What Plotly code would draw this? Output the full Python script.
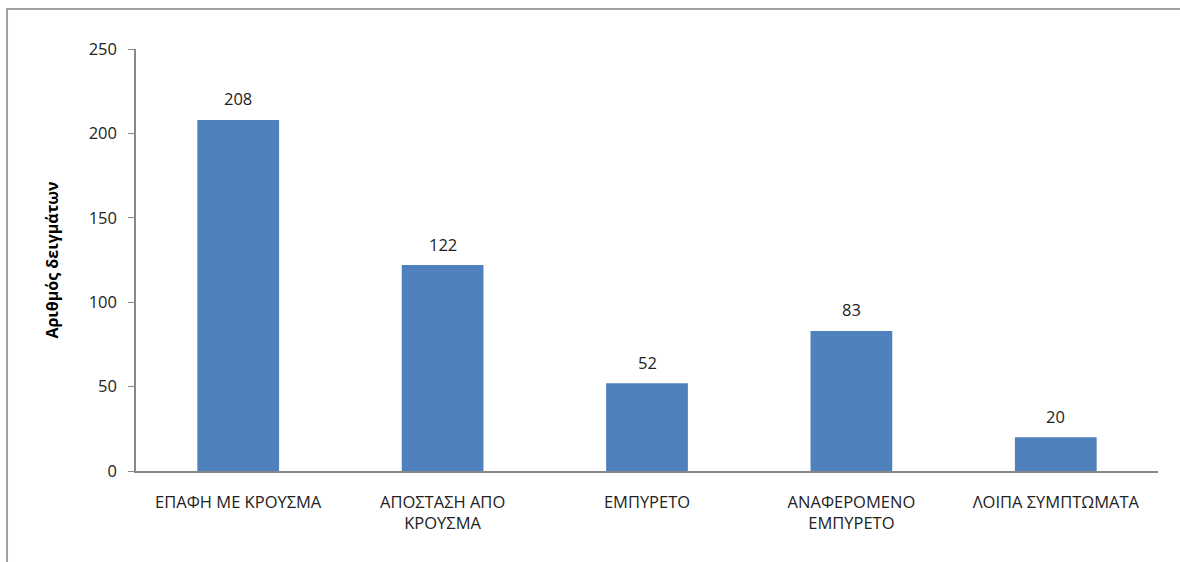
import plotly.graph_objects as go

categories = ["ΕΠΑΦΗ ΜΕ ΚΡΟΥΣΜΑ", "ΑΠΟΣΤΑΣΗ ΑΠΟ<br>ΚΡΟΥΣΜΑ", "ΕΜΠΥΡΕΤΟ",
              "ΑΝΑΦΕΡΟΜΕΝΟ<br>ΕΜΠΥΡΕΤΟ", "ΛΟΙΠΑ ΣΥΜΠΤΩΜΑΤΑ"]
values = [208, 122, 52, 83, 20]
y_ticks = [0, 50, 100, 150, 200, 250]
y_title = "Αριθμός δειγμάτων"

FONT = "Open Sans, Liberation Sans, sans-serif"
BAR = "#4F81BD"
FS = 16.5

fig = go.Figure()
fig.add_trace(go.Bar(x=categories, y=values, marker=dict(color=BAR, line=dict(width=0)),
                     hoverinfo="skip"))

for c, v in zip(categories, values):
    fig.add_annotation(x=c, y=v, text=str(v), showarrow=False, yshift=21,
                       font=dict(family=FONT, size=FS, color="#222"))

fig.update_layout(
    width=1180, height=562,
    margin=dict(l=136, r=22, t=49, b=91),
    paper_bgcolor="white", plot_bgcolor="white",
    bargap=0.6, showlegend=False,
    font=dict(family=FONT, size=FS, color="#222"),
)
fig.update_xaxes(showline=True, linecolor="#888", linewidth=1.5, ticks="",
                 showgrid=False, ticklabelstandoff=15,
                 tickfont=dict(family=FONT, size=FS, color="#222"))
fig.update_yaxes(range=[0, 250], tickvals=y_ticks, showline=True, linecolor="#888",
                 linewidth=1.5, ticks="outside", ticklen=6, tickcolor="#888",
                 showgrid=False, zeroline=False, ticklabelstandoff=8,
                 tickfont=dict(family=FONT, size=FS, color="#222"),
                 title=dict(text="<b>" + y_title + "</b>", standoff=26,
                            font=dict(family=FONT, size=16, color="#000")))

fig.add_shape(type="rect", xref="paper", yref="paper",
              x0=-0.1262, y0=-0.3, x1=1.1, y1=1.0948,
              line=dict(color="#A0A0A0", width=2), layer="below")

fig.write_html("out.html", config={"displayModeBar": False},
               post_script="document.body.style.margin='0';")
